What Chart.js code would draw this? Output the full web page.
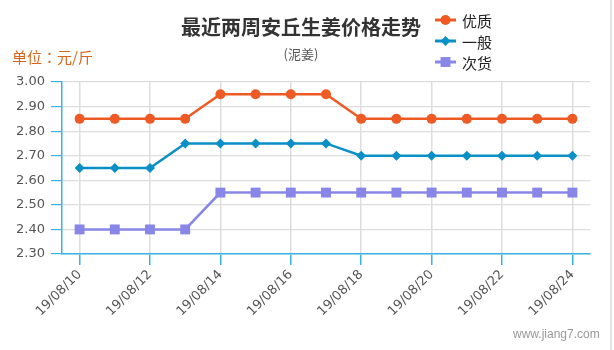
<!DOCTYPE html>
<html>
<head>
<meta charset="utf-8">
<script src="https://cdn.jsdelivr.net/npm/chart.js@4/dist/chart.umd.min.js"></script>
<style>
  html, body { margin: 0; padding: 0; background: #fff; }
  #wrap { width: 614px; height: 350px; position: relative; }
</style>
</head>
<body>
<div id="wrap"><canvas id="c" width="614" height="350"></canvas></div>
<script>
// 安丘生姜（泥姜）近两周每日价格，单位：元/斤
const dates = ['19/08/10','19/08/11','19/08/12','19/08/13','19/08/14','19/08/15','19/08/16','19/08/17',
               '19/08/18','19/08/19','19/08/20','19/08/21','19/08/22','19/08/23','19/08/24'];
const premium = [2.85,2.85,2.85,2.85,2.95,2.95,2.95,2.95,2.85,2.85,2.85,2.85,2.85,2.85,2.85];
const ordinary = [2.65,2.65,2.65,2.75,2.75,2.75,2.75,2.75,2.70,2.70,2.70,2.70,2.70,2.70,2.70];
const inferior = [2.40,2.40,2.40,2.40,2.55,2.55,2.55,2.55,2.55,2.55,2.55,2.55,2.55,2.55,2.55];
const yTicks = [2.30,2.40,2.50,2.60,2.70,2.80,2.90,3.00];

const AXIS_BLUE = '#3ab3e4';
const GRID_GREY = '#dddddd';
const TICK_FONT = { family: '"DejaVu Sans", sans-serif', size: 13 };

// 标题、副标题、单位、图例与网址标识
const decorations = {
  id: 'decorations',
  afterDraw(chart) {
    const ctx = chart.ctx;
    ctx.save();
    ctx.textBaseline = 'middle';

    ctx.fillStyle = '#333333';
    ctx.textAlign = 'center';
    ctx.font = 'bold 20px "Noto Sans CJK SC", sans-serif';
    ctx.fillText('最近两周安丘生姜价格走势', 301, 27);

    ctx.fillStyle = '#555555';
    ctx.font = '13px "Noto Sans CJK SC", sans-serif';
    ctx.fillText('(泥姜)', 301, 54);

    ctx.textAlign = 'left';
    ctx.fillStyle = '#d9641a';
    ctx.font = '15px "Noto Sans CJK TC", "Noto Sans CJK SC", sans-serif';
    ctx.fillText('单位：元/斤', 12, 57);

    // 图例：线段 + 标记 + 名称
    chart.data.datasets.forEach((ds, i) => {
      const y = 20 + i * 21;
      ctx.strokeStyle = ds.borderColor;
      ctx.lineWidth = 3;
      ctx.beginPath();
      ctx.moveTo(435, y);
      ctx.lineTo(456, y);
      ctx.stroke();
      ctx.fillStyle = ds.pointBackgroundColor;
      Chart.helpers.drawPoint(ctx, { pointStyle: ds.pointStyle, radius: ds.pointRadius, rotation: 0 }, 445.5, y);
      ctx.fillStyle = '#222222';
      ctx.font = '15px "Noto Sans CJK SC", sans-serif';
      ctx.fillText(ds.label, 462, y + 1);
    });

    ctx.fillStyle = '#999999';
    ctx.font = '12px "Liberation Sans", Arial, sans-serif';
    ctx.fillText('www.jiang7.com', 513, 335);

    ctx.fillStyle = '#e2e2e2';
    ctx.fillRect(610, 0, 2, 350);
    ctx.restore();
  }
};

new Chart(document.getElementById('c'), {
  type: 'line',
  data: {
    labels: dates,
    datasets: [
      { label: '优质', data: premium, borderColor: '#ee5a24', pointBackgroundColor: '#ee5a24',
        pointBorderColor: '#ee5a24', pointStyle: 'circle', pointRadius: 5 },
      { label: '一般', data: ordinary, borderColor: '#0a8fc6', pointBackgroundColor: '#0a8fc6',
        pointBorderColor: '#0a8fc6', pointStyle: 'rectRot', pointRadius: 5 },
      { label: '次货', data: inferior, borderColor: '#8886e6', pointBackgroundColor: '#8886e6',
        pointBorderColor: '#8886e6', pointStyle: 'rect', pointRadius: 7 }
    ].map(ds => Object.assign({ borderWidth: 2.5, pointBorderWidth: 0, tension: 0, fill: false }, ds))
  },
  options: {
    responsive: false,
    animation: false,
    events: [],
    layout: { padding: { top: 82, right: 24, left: 0, bottom: 0 } },
    plugins: { legend: { display: false }, title: { display: false }, tooltip: { enabled: false } },
    scales: {
      x: {
        offset: true,
        afterFit(scale) { scale.height = 96; },
        border: { color: AXIS_BLUE, width: 1.5 },
        grid: { color: GRID_GREY, tickColor: AXIS_BLUE, tickLength: 11, lineWidth: 1.5 },
        ticks: {
          autoSkip: false, minRotation: 45, maxRotation: 45, padding: 2,
          color: '#555555', font: TICK_FONT,
          callback(value, index) { return index % 2 === 0 ? dates[index] : null; }
        }
      },
      y: {
        min: yTicks[0],
        max: yTicks[yTicks.length - 1],
        afterFit(scale) { scale.width = 62; },
        afterBuildTicks(scale) { scale.ticks = yTicks.map(v => ({ value: v })); },
        border: { color: AXIS_BLUE, width: 1.5 },
        grid: { color: GRID_GREY, tickColor: AXIS_BLUE, tickLength: 11, lineWidth: 1.2 },
        ticks: { padding: 6, color: '#555555', font: TICK_FONT,
          callback(value) { return Number(value).toFixed(2); } }
      }
    }
  },
  plugins: [decorations]
});
</script>
</body>
</html>
